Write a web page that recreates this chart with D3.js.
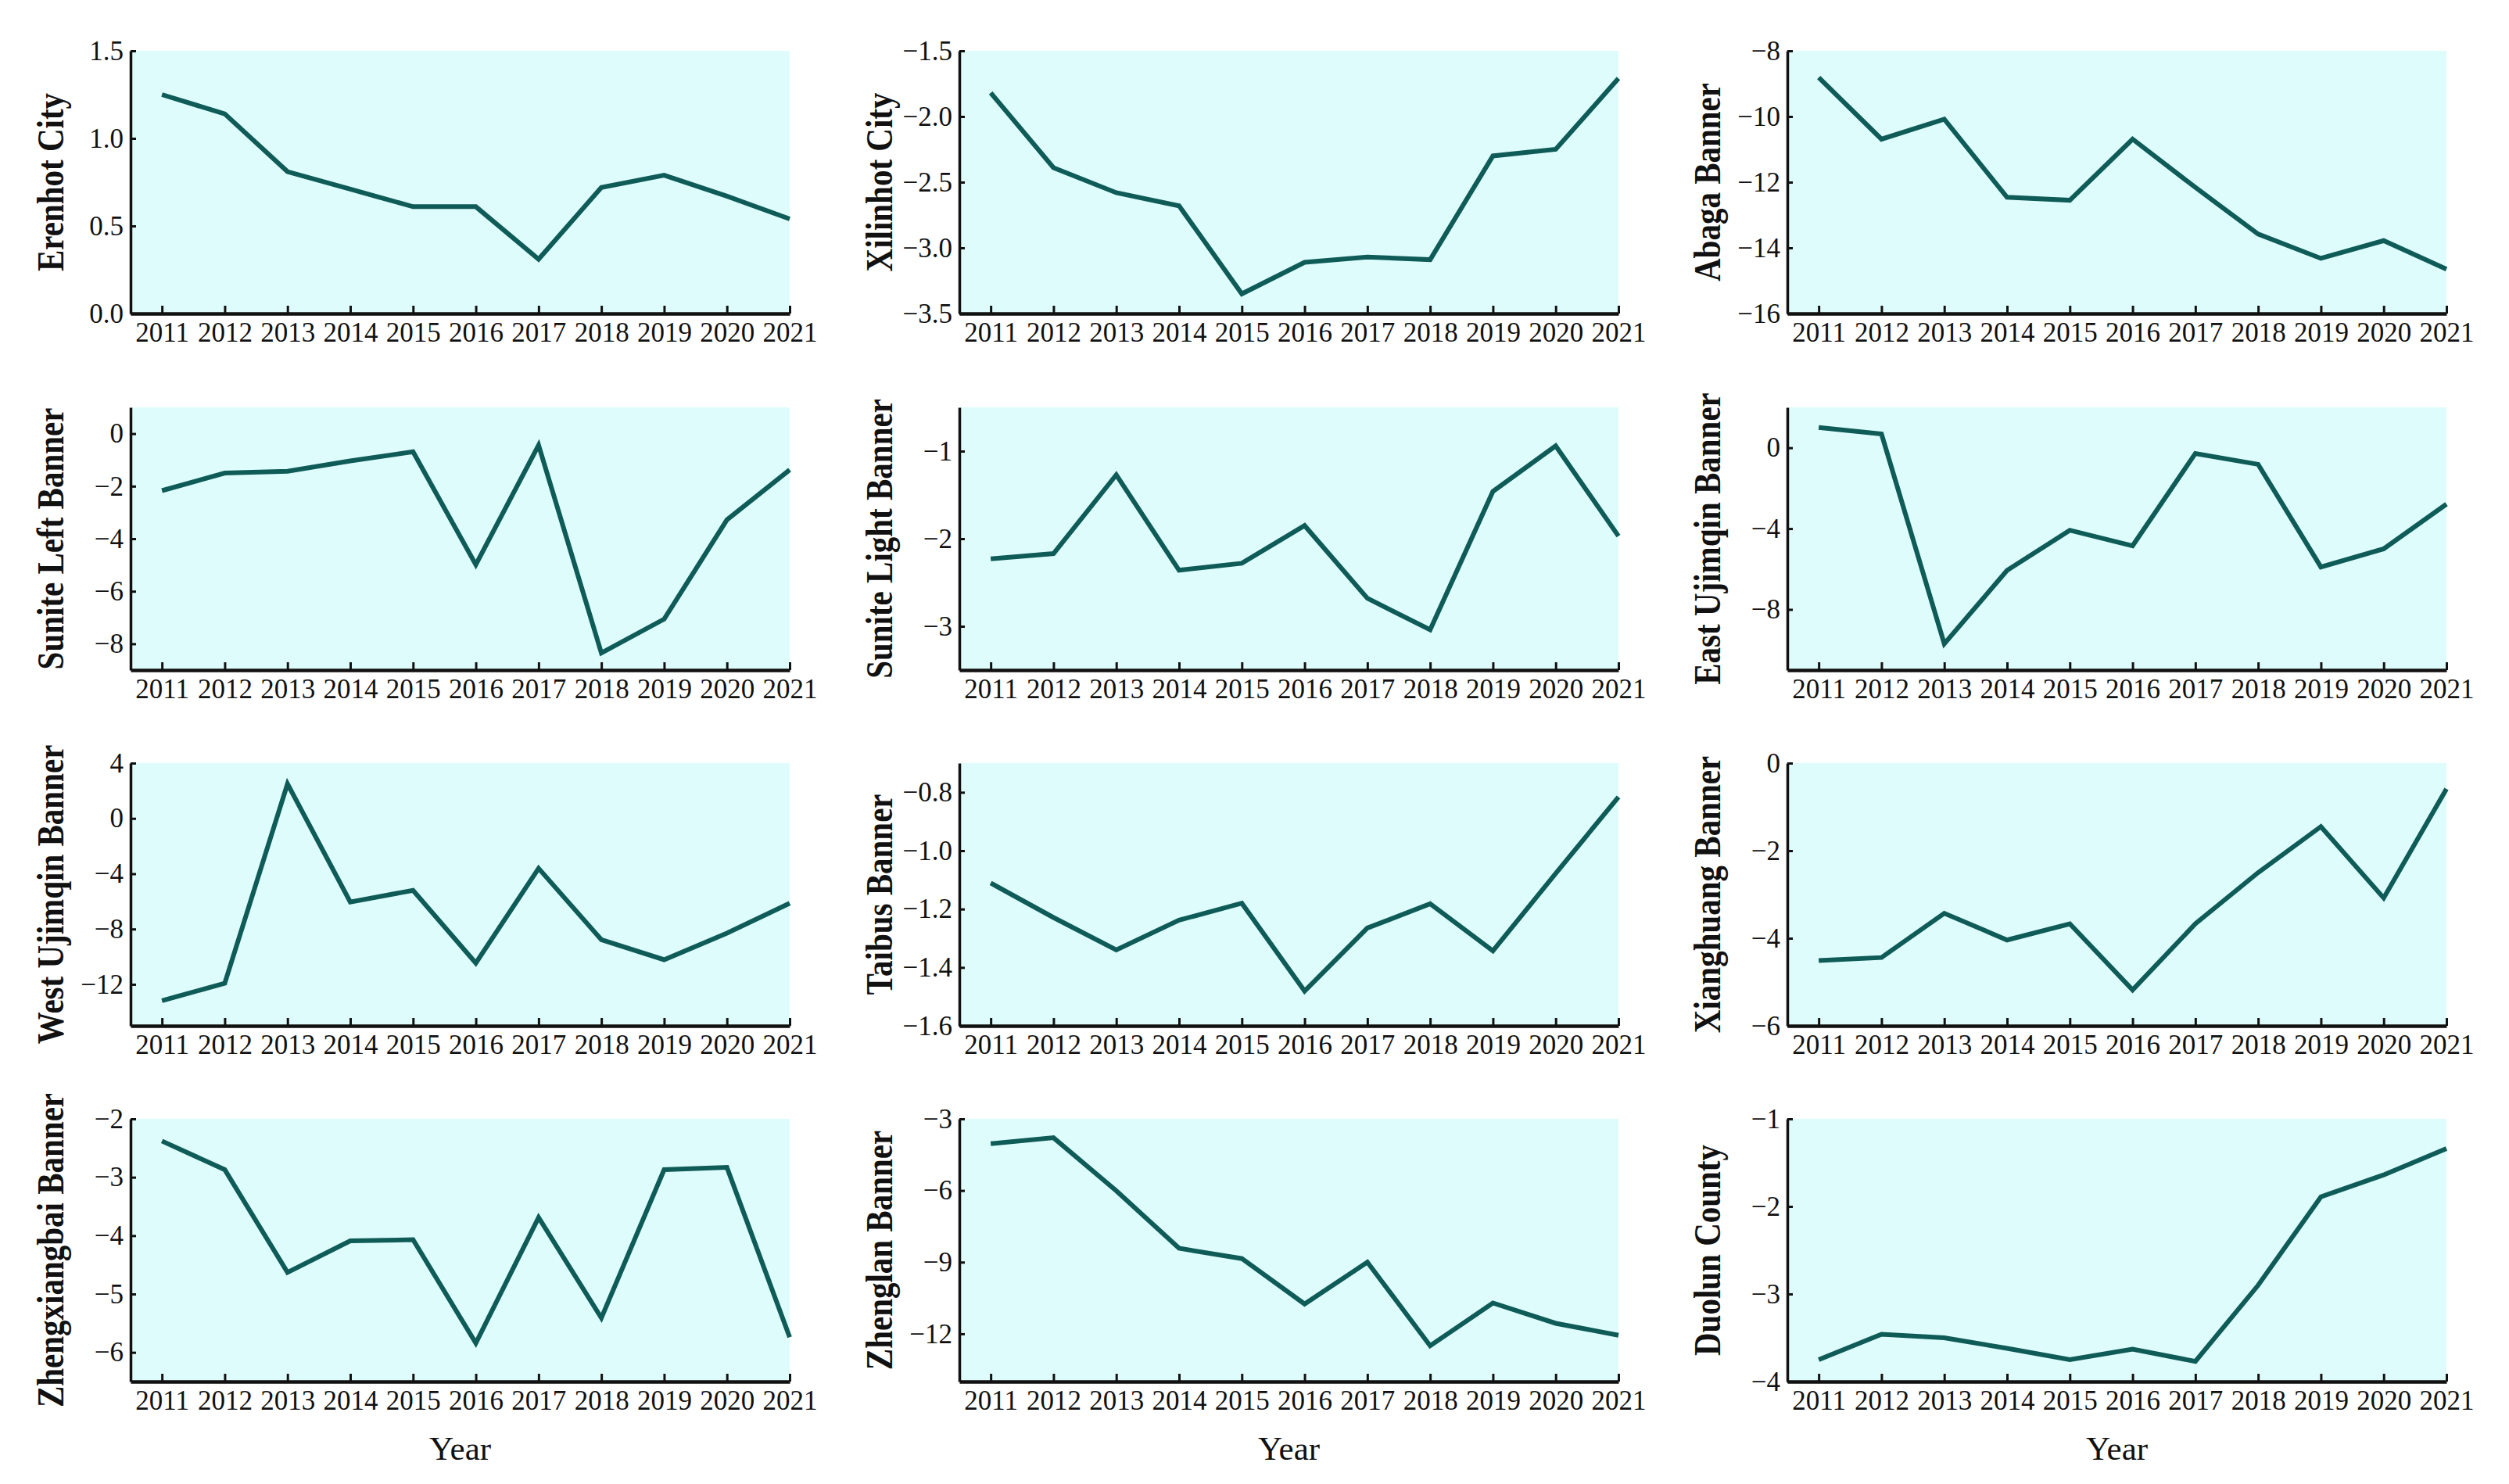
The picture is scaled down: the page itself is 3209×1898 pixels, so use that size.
<!DOCTYPE html>
<html>

<head>
    <meta charset="utf-8">
    <style>
        body {
            margin: 0;
            background: #fff;
        }

        svg {
            display: block;
            font-family: 'Liberation Serif', 'Times New Roman', serif;
        }

        .tick text {
            font-size: 35px;
            fill: #111;
        }

        .ylab {
            font-size: 48px;
            font-weight: bold;
            fill: #111;
        }

        .xlab {
            font-size: 43px;
            fill: #111;
        }
    </style>
</head>

<body>
    <svg width="3209" height="1898"></svg>

    <script src="https://d3js.org/d3.v7.min.js"></script>
    <script>
        // data, one array per banner / city
        let years = [2011, 2012, 2013, 2014, 2015, 2016, 2017, 2018, 2019, 2020, 2021]

        let erenhot = [1.25, 1.14, 0.81, 0.71, 0.61, 0.61, 0.31, 0.72, 0.79, 0.67, 0.54]
        let xilinhot = [-1.82, -2.39, -2.58, -2.68, -3.35, -3.11, -3.07, -3.09, -2.30, -2.25, -1.71]
        let abaga = [-8.81, -10.69, -10.08, -12.46, -12.55, -10.69, -12.16, -13.58, -14.32, -13.78, -14.65]
        let suniteLeft = [-2.17, -1.50, -1.43, -1.04, -0.69, -4.99, -0.44, -8.35, -7.06, -3.28, -1.38]
        let suniteLight = [-2.23, -2.17, -1.27, -2.36, -2.28, -1.85, -2.68, -3.04, -1.46, -0.94, -1.97]
        let eastUjimqin = [1.00, 0.68, -9.70, -6.07, -4.08, -4.85, -0.28, -0.82, -5.90, -5.00, -2.79]
        let westUjimqin = [-13.18, -11.92, 2.50, -6.05, -5.20, -10.46, -3.61, -8.77, -10.22, -8.30, -6.14]
        let taibus = [-1.111, -1.229, -1.340, -1.238, -1.180, -1.481, -1.265, -1.182, -1.343, -1.078, -0.816]
        let xianghuang = [-4.51, -4.44, -3.43, -4.04, -3.67, -5.18, -3.67, -2.50, -1.45, -3.08, -0.59]
        let zhengxiangbai = [-2.38, -2.87, -4.63, -4.09, -4.07, -5.84, -3.69, -5.41, -2.87, -2.83, -5.74]
        let zhenglan = [-4.04, -3.79, -6.01, -8.42, -8.85, -10.75, -9.00, -12.50, -10.71, -11.56, -12.06]
        let duolun = [-3.75, -3.46, -3.50, -3.62, -3.75, -3.63, -3.77, -2.90, -1.89, -1.64, -1.34]

        let names = ["Erenhot City", "Xilinhot City", "Abaga Banner",
            "Sunite Left Banner", "Sunite Light Banner", "East Ujimqin Banner",
            "West Ujimqin Banner", "Taibus Banner", "Xianghuang Banner",
            "Zhengxiangbai Banner", "Zhenglan Banner", "Duolun County"]
        let series = [erenhot, xilinhot, abaga, suniteLeft, suniteLight, eastUjimqin,
            westUjimqin, taibus, xianghuang, zhengxiangbai, zhenglan, duolun]

        // y axis ranges and tick labels of each panel
        let yDomains = [[0, 1.5], [-3.5, -1.5], [-16, -8], [-9, 1], [-3.5, -0.5], [-11, 2],
            [-15, 4], [-1.6, -0.7], [-6, 0], [-6.5, -2], [-14, -3], [-4, -1]]
        let yTicks = [[0, 0.5, 1.0, 1.5], [-3.5, -3.0, -2.5, -2.0, -1.5], [-16, -14, -12, -10, -8],
            [-8, -6, -4, -2, 0], [-3, -2, -1], [-8, -4, 0],
            [-12, -8, -4, 0, 4], [-1.6, -1.4, -1.2, -1.0, -0.8], [-6, -4, -2, 0],
            [-6, -5, -4, -3, -2], [-12, -9, -6, -3], [-4, -3, -2, -1]]
        let yDecimals = [1, 1, 0, 0, 0, 0, 0, 1, 0, 0, 0, 0]

        let svg = d3.select("svg")

        let colLeft = [167, 1227, 2286]
        let rowTop = [65, 521, 976, 1431]
        let plotW = 843
        let plotH = 336

        names.forEach((name, i) => {
            let col = i % 3
            let row = Math.floor(i / 3)
            let g = svg.append("g")
                .attr("transform", `translate(${colLeft[col]},${rowTop[row]})`)

            let x = d3.scaleLinear()
                .domain([2010.5, 2021])
                .range([0, plotW])
            let y = d3.scaleLinear()
                .domain(yDomains[i])
                .range([plotH, 0])

            g.append("rect")
                .attr("width", plotW)
                .attr("height", plotH)
                .attr("fill", "#dffcfc")

            let line = d3.line()
                .x((d, j) => x(years[j]))
                .y(d => y(d))

            g.append("path")
                .datum(series[i])
                .attr("d", line)
                .attr("fill", "none")
                .attr("stroke", "#0e5b57")
                .attr("stroke-width", 6)

            let xAxis = g.append("g")
                .attr("transform", `translate(0,${plotH})`)
                .call(d3.axisBottom(x)
                    .tickValues(years)
                    .tickFormat(d3.format("d"))
                    .tickSize(-10)
                    .tickSizeOuter(0)
                    .tickPadding(11))
            xAxis.select(".domain").attr("stroke", "#111").attr("stroke-width", 4.5)
            xAxis.selectAll(".tick line").attr("stroke", "#111").attr("stroke-width", 3)

            let yAxis = g.append("g")
                .call(d3.axisLeft(y)
                    .tickValues(yTicks[i])
                    .tickFormat(d3.format("." + yDecimals[i] + "f"))
                    .tickSize(-7)
                    .tickSizeOuter(0)
                    .tickPadding(9))
            yAxis.select(".domain").attr("stroke", "#111").attr("stroke-width", 3.5)
            yAxis.selectAll(".tick line").attr("stroke", "#111").attr("stroke-width", 3)

            // let the css fonts win over the axis defaults
            xAxis.attr("font-family", null).attr("font-size", null)
            yAxis.attr("font-family", null).attr("font-size", null)

            let lab = g.append("text")
                .attr("class", "ylab")
                .attr("transform", `translate(-86,${plotH / 2}) rotate(-90)`)
                .attr("text-anchor", "middle")
                .text(name)
            // the printed labels are squeezed along their length
            let len = lab.node().getComputedTextLength()
            lab.attr("textLength", len * 41 / 48)
                .attr("lengthAdjust", "spacingAndGlyphs")

            if (row === 3) {
                g.append("text")
                    .attr("class", "xlab")
                    .attr("x", plotW / 2)
                    .attr("y", plotH + 100)
                    .attr("text-anchor", "middle")
                    .text("Year")
            }
        })
    </script>
</body>

</html>
